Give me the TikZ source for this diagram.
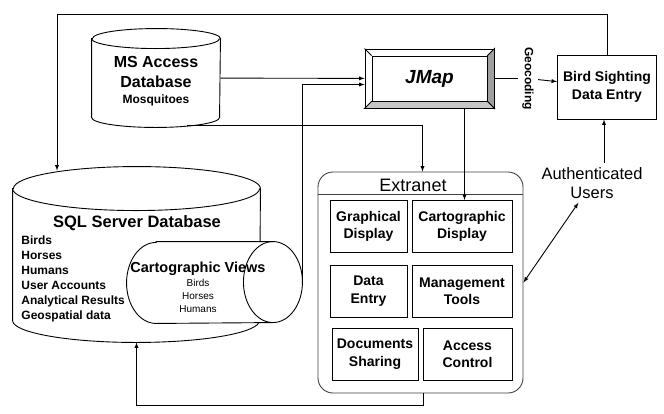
\documentclass[tikz,border=0pt]{standalone}
\usepackage{fontspec}
\setmainfont{Liberation Sans}

\newcommand{\fs}[1]{\fontsize{#1}{#1}\selectfont}

\begin{document}
\begin{tikzpicture}[x=1pt,y=-1pt,>=latex,line width=0.9pt,
    tool/.style={draw,minimum height=52pt,inner sep=0pt,align=center,
      font=\bfseries\fs{14}\linespread{1.25}\selectfont}]
  \useasboundingbox (0,0) rectangle (664,413);

  % databases: nodes first, cylinder outlines drawn round them
  \node[minimum width=128pt,minimum height=98pt,inner sep=0pt] (ms) at (156,78) {};
  \node[minimum width=247pt,minimum height=175pt,inner sep=0pt] (sql) at (136.5,254.5) {};
  \foreach \n / \rx / \ry in {ms/64/10, sql/123.5/22}{
    \draw[fill=white] ([yshift=-\ry pt]\n.north west) -- ([yshift=\ry pt]\n.south west)
      arc[start angle=180,end angle=360,x radius=\rx pt,y radius=\ry pt]
      -- ([yshift=-\ry pt]\n.north east)
      arc[start angle=0,end angle=180,x radius=\rx pt,y radius=\ry pt] -- cycle;
    \draw ([yshift=-\ry pt]\n.north west) arc[start angle=180,end angle=360,x radius=\rx pt,y radius=\ry pt];
  }
  \node[align=center,font=\bfseries\fs{16}] (mstitle) at (156,72) {MS Access\\[4pt]Database};
  \node[font=\bfseries\fs{12}] (mslist) at (156,100) {Mosquitoes};
  \node[font=\bfseries\fs{16.5}] (sqltitle) at (137,223) {SQL Server Database};
  \node[anchor=north west,align=left,inner sep=0pt,font=\bfseries\fs{12}\linespread{1.25}\selectfont]
    (sqllist) at (21,235) {Birds\\Horses\\Humans\\User Accounts\\Analytical Results\\Geospatial data};

  \node[minimum width=175pt,minimum height=81pt,inner sep=0pt] (cart) at (214.5,282.5) {};
  \draw[fill=white] ([xshift=29.5pt]cart.north west) -- ([xshift=-29.5pt]cart.north east)
    arc[start angle=90,end angle=-90,x radius=29.5pt,y radius=40.5pt]
    -- ([xshift=29.5pt]cart.south west)
    arc[start angle=270,end angle=90,x radius=29.5pt,y radius=40.5pt] -- cycle;
  \node[font=\bfseries\fs{14.5}] (carttitle) at (198,269) {Cartographic Views};
  \node[align=center,font=\fs{10}\linespread{1.3}\selectfont] (cartlist) at (198,296) {Birds\\Horses\\Humans};
  \draw ([xshift=-29.5pt]cart.north east) arc[start angle=90,end angle=270,x radius=29.5pt,y radius=40.5pt];

  % JMap
  \node[draw,minimum width=129pt,minimum height=59pt] (jmap) at (429.5,78.5) {};
  \filldraw[fill=gray!75] (jmap.north east) -- ++(-7,7) -- ([shift={(-7pt,7pt)}]jmap.south east) -- (jmap.south east) -- cycle;
  \filldraw[fill=gray!45] (jmap.south west) -- ++(7,-7) -- ([shift={(-7pt,7pt)}]jmap.south east) -- (jmap.south east) -- cycle;
  \draw (jmap.north west) -- ++(7,7);
  \node[draw,fill=white,minimum width=115pt,minimum height=45pt,font=\bfseries\itshape\fs{19}] (jmapin) at (jmap) {JMap};

  % bird sighting and users
  \node[draw,minimum width=99pt,minimum height=64pt,align=center,font=\bfseries\fs{14}\linespread{1.25}\selectfont]
    (bird) at (607,87) {Bird Sighting\\Data Entry};
  \node[rotate=-90,inner sep=4pt,font=\bfseries\fs{12}] (geo) at (528,78.5) {Geocoding};
  \node[align=center,font=\fs{16.5}\linespread{1.2}\selectfont] (users) at (592,183) {Authenticated\\Users};

  % extranet
  \node[draw=black!75,rounded corners=15pt,minimum width=205pt,minimum height=221pt] (ext) at (420.5,282.5) {};
  \draw[black!75] ([yshift=-23pt]ext.north west) -- ([yshift=-23pt]ext.north east);
  \node[font=\fs{18}] (exttitle) at (413,185) {Extranet};
  \def \Tools{
    gdisp/368.5/226.5/77/{Graphical\\Display},
    cdisp/462/226.5/100/{Cartographic\\Display},
    dentry/368.5/291/77/{Data\\Entry},
    mtools/462/291/100/{Management\\Tools},
    dshare/375/354/86/{Documents\\Sharing},
    actrl/467.5/354/89/{Access\\Control}}
  \foreach \id / \x / \y / \w / \t in \Tools{
    \node[tool,minimum width=\w pt] (\id) at (\x,\y) {\t};
  }

  % connectors
  \coordinate (corner) at (57,14);
  \draw[->] (ms) -- (jmap);
  \draw[->] (cart.east) |- ([yshift=-6pt]jmap.west);
  \draw[->] ([shift={(31pt,2pt)}]ms.south) -| ([xshift=2pt]ext.north);
  \draw[->] ([xshift=35pt]jmap.south) -- ([xshift=35pt]jmap.south |- cdisp.north);
  \draw (jmap) -- (geo);
  \draw[->] (geo) -- (bird);
  \draw[->] (bird.north) |- (corner) -- ([yshift=-4pt]corner |- sql.north);
  \draw[->] ([xshift=-3pt]bird.south |- users.north) -- ([xshift=-3pt]bird.south);
  \draw[<->] (users) -- (ext.east);
  \draw[->] ([xshift=3pt]ext.south) -- ++(0,12) -| (sql.south);
\end{tikzpicture}
\end{document}
